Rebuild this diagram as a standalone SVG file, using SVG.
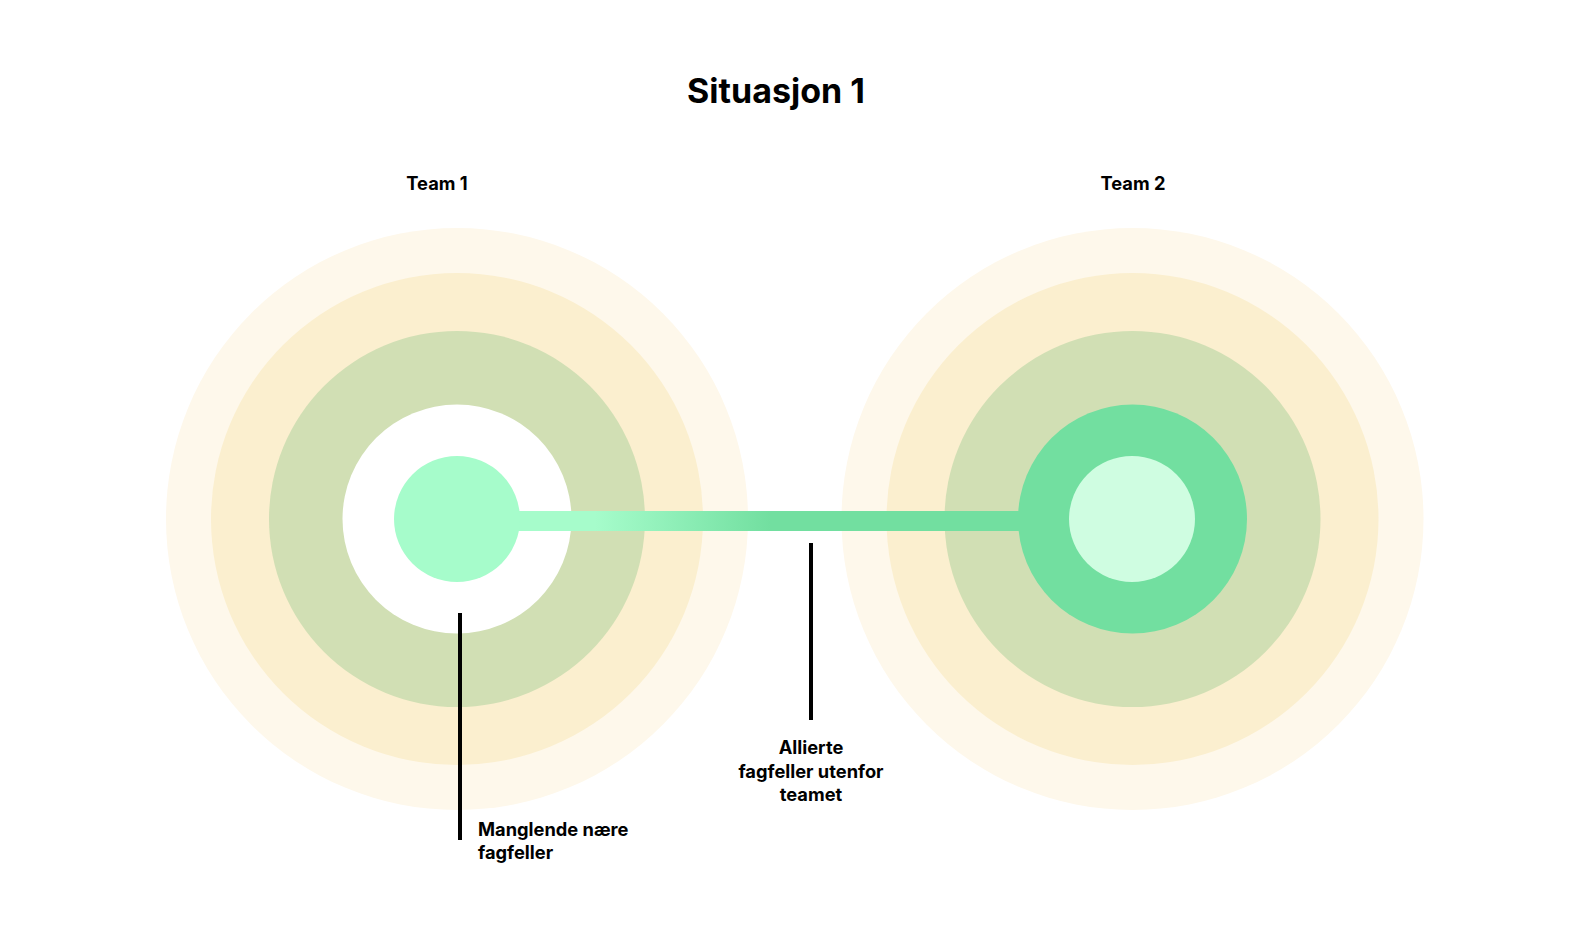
<svg xmlns="http://www.w3.org/2000/svg" width="1590" height="952" viewBox="0 0 1590 952">
<defs>
<style>
.t{font-family:Inter,"Liberation Sans",sans-serif;font-weight:700;fill:#000}
.l{font-size:18.3px}
.c1{fill:#FEF8EB}.c2{fill:#FBEFCF}.c3{fill:#D1DFB4}
.ln{stroke:#000;stroke-width:4}
</style>
<linearGradient id="bar" x1="520" y1="0" x2="1020" y2="0" gradientUnits="userSpaceOnUse">
<stop offset="0" stop-color="#A6FCCB"/>
<stop offset="0.15" stop-color="#A6FCCB"/>
<stop offset="0.5" stop-color="#72DFA0"/>
<stop offset="1" stop-color="#72DFA0"/>
</linearGradient>
</defs>
<rect width="1590" height="952" fill="#fff"/>
<text class="t" x="776" y="103" font-size="34" text-anchor="middle">Situasjon 1</text>
<g id="team1">
<circle class="c1" cx="457" cy="519" r="291"/>
<circle class="c2" cx="457" cy="519" r="246"/>
<circle class="c3" cx="457" cy="519" r="188"/>
<circle cx="457" cy="519" r="114.5" fill="#fff"/>
<text class="t l" x="437" y="190" text-anchor="middle">Team 1</text>
</g>
<g id="team2">
<circle class="c1" cx="1132.5" cy="519" r="291"/>
<circle class="c2" cx="1132.5" cy="519" r="246"/>
<circle class="c3" cx="1132.5" cy="519" r="188"/>
<circle cx="1132.5" cy="519" r="114.5" fill="#72DFA0"/>
<text class="t l" x="1133" y="190" text-anchor="middle">Team 2</text>
</g>
<g id="connectors">
<rect x="500" y="511" width="535" height="20" fill="url(#bar)"/>
<line class="ln" x1="460" y1="613" x2="460" y2="840"/>
<line class="ln" x1="811" y1="543" x2="811" y2="720"/>
</g>
<g id="core1">
<circle cx="457" cy="519" r="63" fill="#A6FCCB"/>
</g>
<g id="core2">
<circle cx="1132" cy="519" r="63" fill="#CFFDE1"/>
</g>
<g id="label-manglende">
<text class="t l" x="478" y="836">Manglende nære</text>
<text class="t l" x="478" y="859">fagfeller</text>
</g>
<g id="label-allierte">
<text class="t l" x="811" y="754" text-anchor="middle">Allierte</text>
<text class="t l" x="811" y="778" text-anchor="middle">fagfeller utenfor</text>
<text class="t l" x="811" y="801" text-anchor="middle">teamet</text>
</g>
</svg>
